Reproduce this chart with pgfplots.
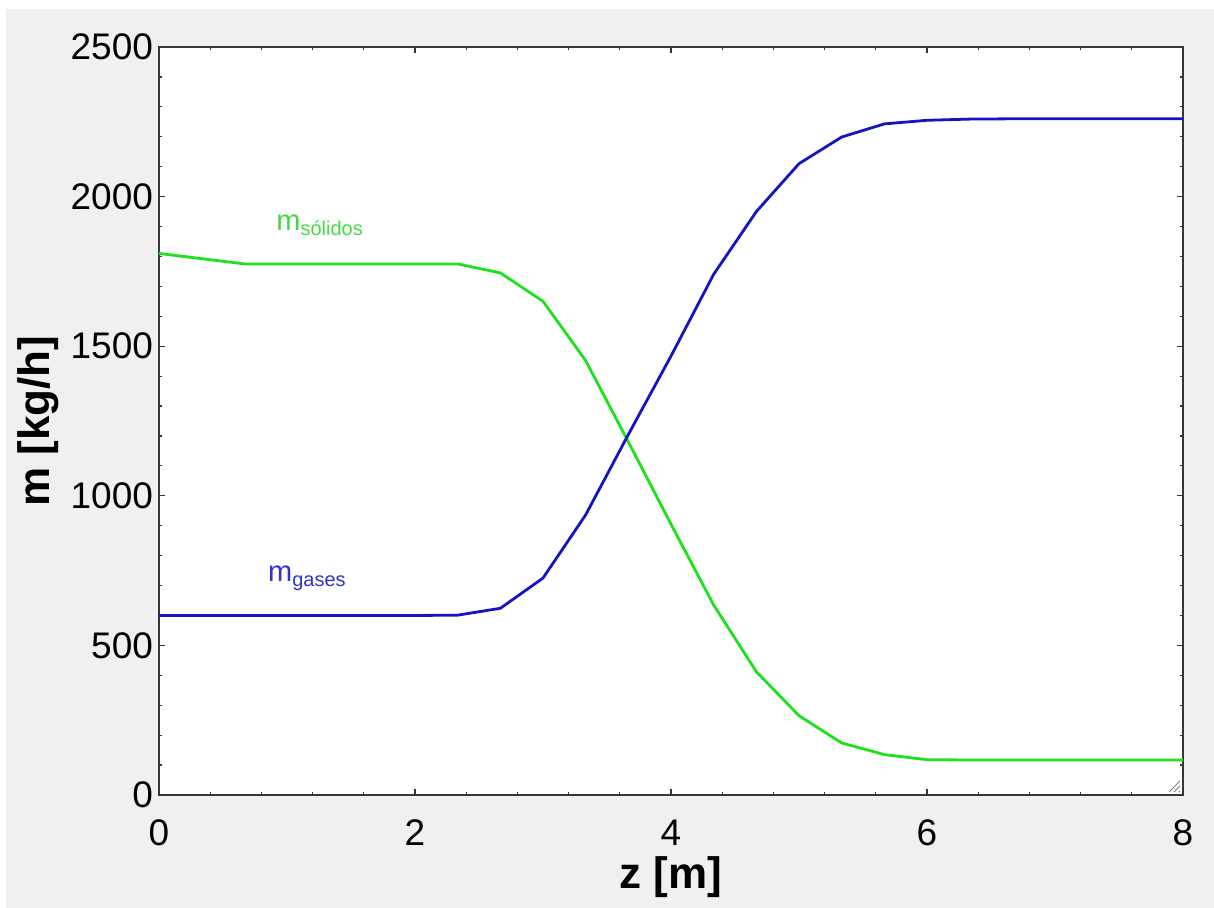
\documentclass[border=0pt]{standalone}
\usepackage{fontspec}
\setmainfont{Liberation Sans}
\usepackage{pgfplots}
\pgfplotsset{compat=1.18}

\definecolor{bggray}{RGB}{240,240,240}
\definecolor{axisgray}{RGB}{55,55,55}
\definecolor{solgreen}{RGB}{30,225,30}
\definecolor{gasblue}{RGB}{20,20,195}
\definecolor{labgreen}{RGB}{70,215,70}
\definecolor{labblue}{RGB}{50,50,200}

\begin{document}
\begin{tikzpicture}
% window background
\fill[white] (-79.5pt,-56.5pt) rectangle (527.5pt,397.5pt);
\fill[bggray] (-76.5pt,-56.5pt) rectangle (527.5pt,393pt);

\begin{axis}[
    at={(0,0)}, anchor=south west,
    scale only axis,
    width=512pt, height=374pt,
    xmin=0, xmax=8,
    ymin=0, ymax=2500,
    xtick={0,2,4,6,8},
    ytick={0,500,1000,1500,2000,2500},
    minor x tick num=4,
    minor y tick num=4,
    tick align=inside,
    major tick length=2.8pt,
    minor tick length=1.6pt,
    axis background/.style={fill=white},
    axis line style={axisgray, line width=0.9pt},
    every tick/.style={axisgray, line width=0.6pt},
    ticklabel style={font=\fontsize{18.5}{22}\selectfont,
        /pgf/number format/assume math mode=true},
    scaled y ticks=false,
    yticklabel style={/pgf/number format/1000 sep={}, xshift=0.5pt},
    xticklabel style={yshift=-9pt},
    xlabel={z [m]},
    ylabel={m [kg/h]},
    label style={font=\bfseries\fontsize{22}{26}\selectfont},
    xlabel style={at={(axis description cs:0.5,-0.125)}, anchor=base},
    ylabel style={at={(axis description cs:-0.118,0.5)}, anchor=center},
]

% m solidos
\addplot[solgreen, line width=1.4pt] coordinates {
    (0,1810) (0.667,1775) (1.0,1775) (1.333,1775) (1.667,1775) (2.0,1775)
    (2.333,1775) (2.667,1745) (3.0,1650) (3.333,1452) (3.667,1180)
    (4.0,905) (4.333,635) (4.667,412) (5.0,265) (5.333,174) (5.667,135)
    (6.0,118) (6.333,117) (6.667,117) (7.0,117) (7.333,117) (7.667,117) (8.0,117)
};

% m gases
\addplot[gasblue, line width=1.4pt] coordinates {
    (0,600) (0.667,600) (1.0,600) (1.333,600) (1.667,600) (2.0,600)
    (2.333,601) (2.667,624) (3.0,725) (3.333,936) (3.667,1205)
    (4.0,1467) (4.333,1740) (4.667,1950) (5.0,2110) (5.333,2199) (5.667,2243)
    (6.0,2255) (6.333,2259) (6.667,2260) (7.0,2260) (7.333,2260) (7.667,2260) (8.0,2260)
};

\node[anchor=base west, text=labgreen, inner sep=0pt] at (axis cs:0.914,1888)
    {\fontsize{14.5}{16}\selectfont m\raisebox{-2.5pt}{\fontsize{10}{12}\selectfont sólidos}};
\node[anchor=base west, text=labblue, inner sep=0pt] at (axis cs:0.85,712)
    {\fontsize{14.5}{16}\selectfont m\raisebox{-2.5pt}{\fontsize{10}{12}\selectfont gases}};
\end{axis}

% resize grip in the corner
\foreach \d in {2,4.5,7} {
    \draw[gray, line width=0.5pt] ([xshift=-\d pt, yshift=1.5pt]current axis.south east)
        -- ([xshift=-1.5pt, yshift=\d pt]current axis.south east);
}
\end{tikzpicture}
\end{document}
